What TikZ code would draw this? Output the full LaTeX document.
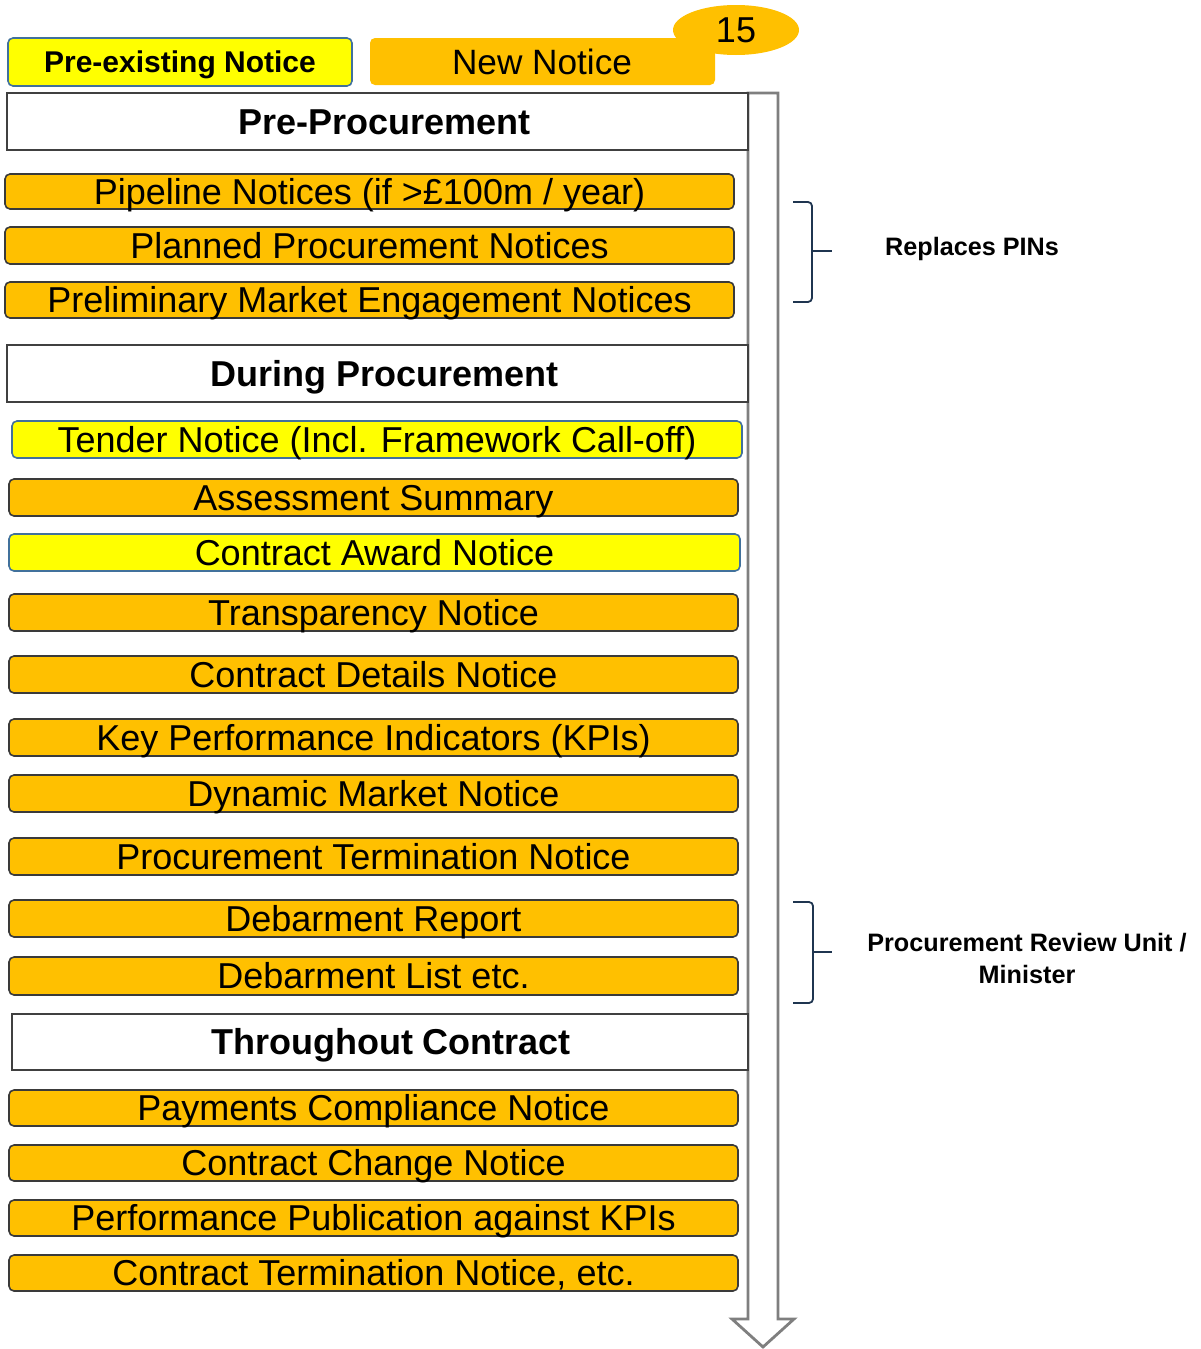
\documentclass[tikz,border=0pt]{standalone}
\usepackage{fontspec}
\setmainfont{Liberation Sans}
\usetikzlibrary{shapes.geometric}
\definecolor{orangeF}{HTML}{FFC000}
\definecolor{yellowF}{HTML}{FFFF00}
\definecolor{boxline}{HTML}{3A3A3A}
\definecolor{oldline}{HTML}{41719C}
\definecolor{headline}{HTML}{404040}
\definecolor{arrowC}{HTML}{7F7F7F}
\definecolor{bracketC}{HTML}{1F3550}
\newcommand\bx[7]{%
  \pgfmathsetmacro\cx{(#3+#5)/2}\pgfmathsetmacro\cy{(#4+#6)/2}%
  \pgfmathsetmacro\ww{(#5-#3)*0.5}\pgfmathsetmacro\hh{(#6-#4)*0.5}%
  \node[#2, minimum width=\ww pt, minimum height=\hh pt] (#1) at (\cx,\cy) {#7};}
\begin{document}
\begin{tikzpicture}[x=0.5pt,y=-0.5pt,
  basebox/.style={rounded corners=2.5pt, inner sep=0pt, font=\fontsize{18}{20}\selectfont, text height=12.9pt, text depth=0pt, align=center},
  newbox/.style={basebox, fill=orangeF, draw=boxline, line width=0.8pt},
  oldbox/.style={basebox, fill=yellowF, draw=oldline, line width=0.8pt},
  headbox/.style={inner sep=0pt, fill=white, draw=headline, line width=1pt, font=\bfseries\fontsize{18}{20}\selectfont, text height=12.9pt, text depth=0pt},
  bracket/.style={draw=bracketC, line width=0.9pt, rounded corners=2pt},
  note/.style={font=\bfseries\fontsize{12.6}{16}\selectfont, align=center, inner sep=0pt},
]
\useasboundingbox (0,0) rectangle (1200,1349);
% big arrow
\draw[draw=arrowC, line width=1.4pt, fill=white, line join=miter]
  (748,93) -- (778,93) -- (778,1319) -- (794,1319) -- (763,1347) -- (732,1319) -- (748,1319) -- cycle;
% legend
\bx{legold}{oldbox, font=\bfseries\fontsize{15}{17}\selectfont, text height=10.8pt}{8}{38}{352}{86}{Pre-existing Notice}
\bx{legnew}{basebox, fill=orangeF}{370}{38}{715}{85}{}
\node[ellipse, fill=orangeF, minimum width=63pt, minimum height=25pt, inner sep=0pt, font=\fontsize{18}{20}\selectfont] (count) at (736,30) {15};
\node[font=\fontsize{17.6}{20}\selectfont, inner sep=0pt, text height=12.6pt, text depth=0pt] (legnewtxt) at (542,62) {New Notice};
% headings and notices
\bx{hpre}{headbox}{7}{93}{748}{150}{\hspace*{7pt}Pre-Procurement}
\bx{n1}{newbox}{5}{174}{734}{209}{Pipeline Notices (if >£100m / year)}
\bx{n2}{newbox}{5}{227}{734}{264}{Planned Procurement Notices}
\bx{n3}{newbox}{5}{282}{734}{318}{Preliminary Market Engagement Notices}
\bx{hdur}{headbox}{7}{345}{748}{402}{\hspace*{7pt}During Procurement}
\bx{n4}{oldbox}{12}{421}{742}{458}{Tender Notice (Incl. Framework Call-off)}
\bx{n5}{newbox}{9}{479}{738}{516}{Assessment Summary}
\bx{n6}{oldbox}{9}{534}{740}{571}{Contract Award Notice}
\bx{n7}{newbox}{9}{594}{738}{631}{Transparency Notice}
\bx{n8}{newbox}{9}{656}{738}{693}{Contract Details Notice}
\bx{n9}{newbox}{9}{719}{738}{756}{Key Performance Indicators (KPIs)}
\bx{n10}{newbox}{9}{775}{738}{812}{Dynamic Market Notice}
\bx{n11}{newbox}{9}{838}{738}{875}{Procurement Termination Notice}
\bx{n12}{newbox}{9}{900}{738}{937}{Debarment Report}
\bx{n13}{newbox}{9}{957}{738}{995}{Debarment List etc.}
\bx{hthr}{headbox}{12}{1014}{748}{1070}{\hspace*{11pt}Throughout Contract}
\bx{n14}{newbox}{9}{1090}{738}{1126}{Payments Compliance Notice}
\bx{n15}{newbox}{9}{1145}{738}{1181}{Contract Change Notice}
\bx{n16}{newbox}{9}{1200}{738}{1236}{Performance Publication against KPIs}
\bx{n17}{newbox}{9}{1255}{738}{1291}{Contract Termination Notice, etc.}
% brackets and notes
\draw[bracket] (793,202) -- (812,202) -- (812,302) -- (793,302);
\draw[bracket, rounded corners=0pt] (812,251) -- (832,251);
\node[note] (pins) at (972,249) {Replaces PINs};
\draw[bracket] (793,902) -- (813,902) -- (813,1003) -- (793,1003);
\draw[bracket, rounded corners=0pt] (813,952) -- (832,952);
\node[note] (pru) at (1027,958) {Procurement Review Unit /\\Minister};
\end{tikzpicture}
\end{document}
